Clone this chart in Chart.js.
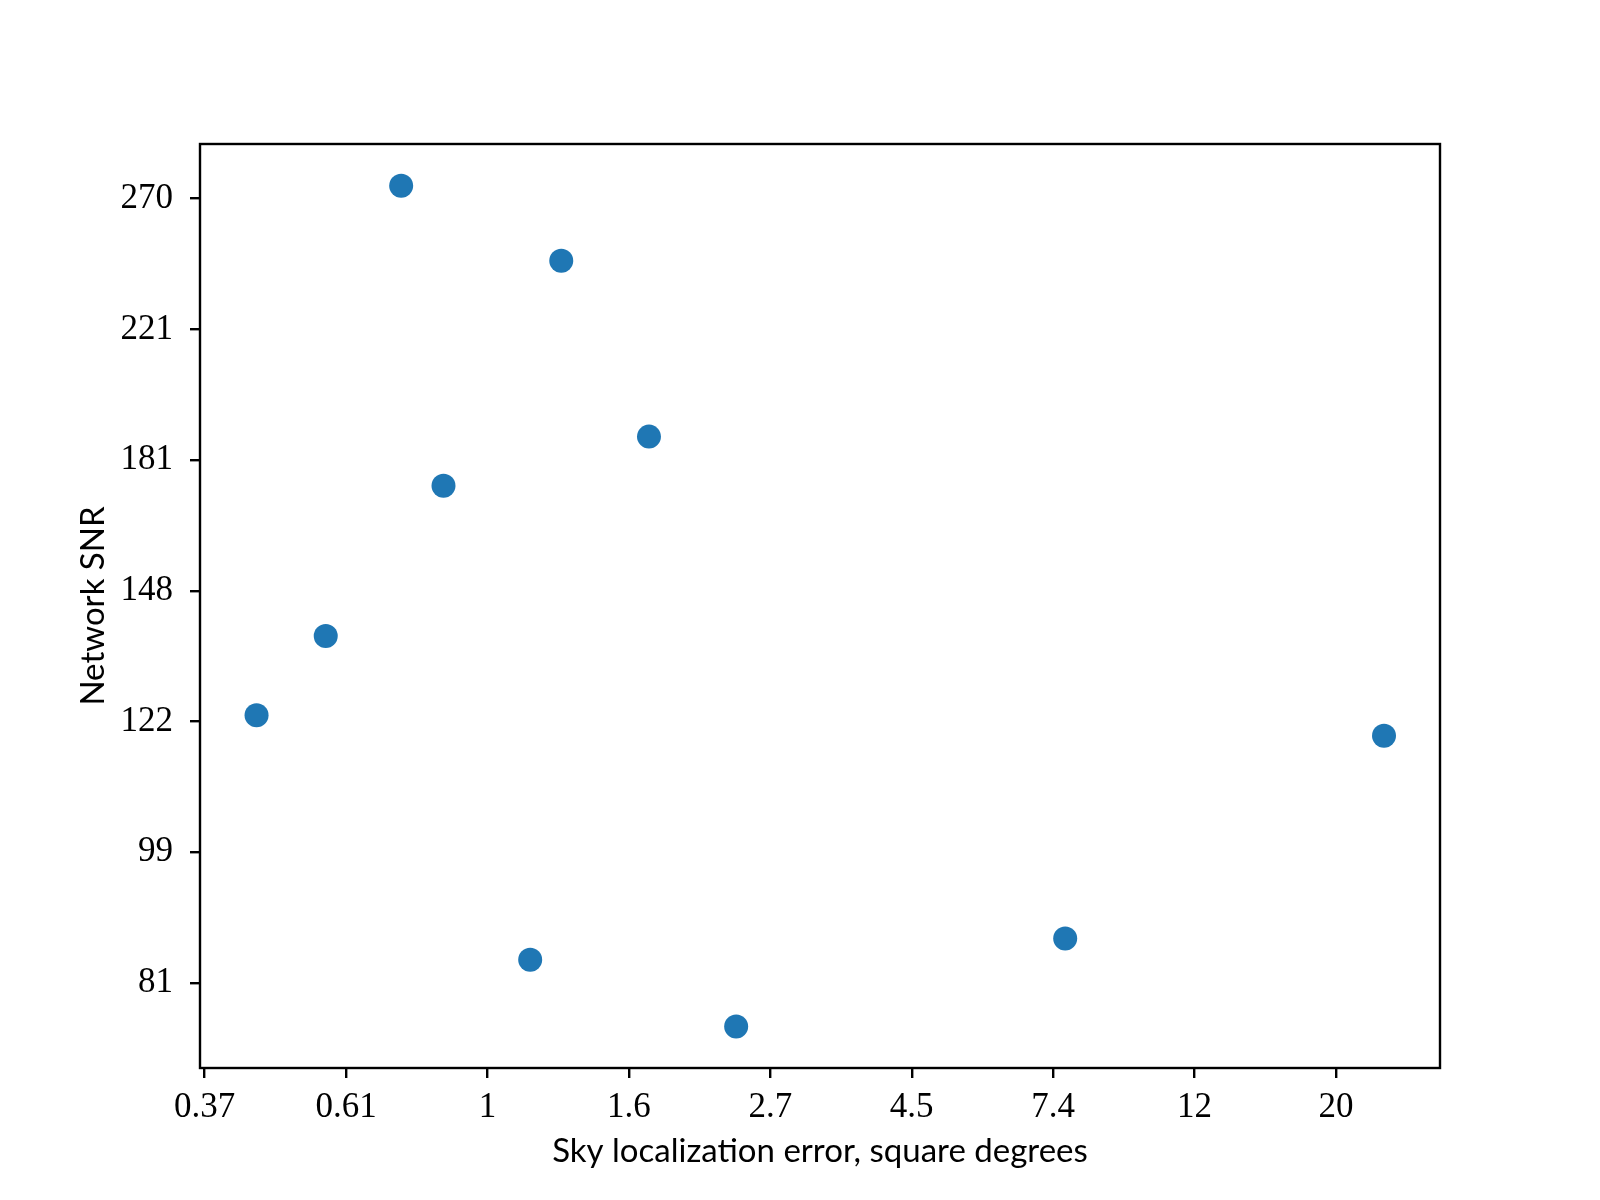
<!DOCTYPE html>
<html>
<head>
<meta charset="utf-8">
<script src="https://cdn.jsdelivr.net/npm/chart.js@4/dist/chart.umd.min.js"></script>
<style>
  html, body { margin: 0; padding: 0; background: #fff; }
  canvas { display: block; }
</style>
</head>
<body>
<canvas id="chart" width="1600" height="1200"></canvas>
<script>
// sky localization error (square degrees) and network SNR
const skyError = [0.442, 0.5645, 0.737, 0.856, 1.163, 1.298, 1.770, 2.409, 7.71, 23.8];
const networkSnr = [122.7, 138.5, 275.8, 174.3, 84.4, 245.9, 187.9, 76.2, 87.2, 118.9];

// tick positions (powers of e) and the labels printed at them
const xTickValues = [0.3679, 0.6065, 1, 1.6487, 2.7183, 4.4817, 7.3891, 12.1825, 20.0855];
const xTickLabels = ['0.37', '0.61', '1', '1.6', '2.7', '4.5', '7.4', '12', '20'];
const yTickValues = [81.45, 99.48, 121.51, 148.41, 181.27, 221.41, 270.43];
const yTickLabels = ['81', '99', '122', '148', '181', '221', '270'];

const frame = {
  id: 'frame',
  afterDraw(chart) {
    const { ctx, chartArea: a } = chart;
    ctx.save();
    ctx.strokeStyle = '#000';
    ctx.lineWidth = 2.4;
    ctx.strokeRect(a.left, a.top, a.right - a.left, a.bottom - a.top);
    ctx.restore();
  }
};

const tickFont = { family: 'Liberation Serif', size: 35 };
const titleFont = { family: 'Lato', size: 33 };

new Chart(document.getElementById('chart').getContext('2d'), {
  type: 'scatter',
  data: {
    datasets: [{
      data: skyError.map((x, i) => ({ x, y: networkSnr[i] })),
      backgroundColor: '#1f77b4',
      borderWidth: 0,
      pointRadius: 12,
      pointHoverRadius: 12
    }]
  },
  options: {
    responsive: false,
    animation: false,
    layout: { padding: { top: 144, right: 160, left: 0, bottom: 0 } },
    plugins: { legend: { display: false }, tooltip: { enabled: false } },
    scales: {
      x: {
        type: 'logarithmic',
        min: 0.3619,
        max: 29.01,
        afterFit(scale) { scale.height = 132; },
        afterBuildTicks(scale) { scale.ticks = xTickValues.map(v => ({ value: v })); },
        grid: { drawOnChartArea: false, drawTicks: true, tickLength: 10, color: '#000', lineWidth: 2.4 },
        border: { display: false },
        ticks: {
          autoSkip: false,
          maxRotation: 0,
          padding: 9,
          color: '#000',
          font: tickFont,
          callback: (v, i) => xTickLabels[i]
        },
        title: {
          display: true,
          text: 'Sky localization error, square degrees',
          color: '#000',
          font: titleFont,
          padding: { top: 0, bottom: 29 }
        }
      },
      y: {
        type: 'logarithmic',
        min: 71.52,
        max: 294.0,
        afterFit(scale) { scale.width = 200; },
        afterBuildTicks(scale) { scale.ticks = yTickValues.map(v => ({ value: v })); },
        grid: { drawOnChartArea: false, drawTicks: true, tickLength: 10, color: '#000', lineWidth: 2.4 },
        border: { display: false },
        ticks: {
          autoSkip: false,
          padding: 17,
          color: '#000',
          font: tickFont,
          callback: (v, i) => yTickLabels[i]
        },
        title: {
          display: true,
          text: 'Network SNR',
          color: '#000',
          font: titleFont,
          padding: { top: 74, bottom: 0 }
        }
      }
    }
  },
  plugins: [frame]
});
</script>
</body>
</html>
